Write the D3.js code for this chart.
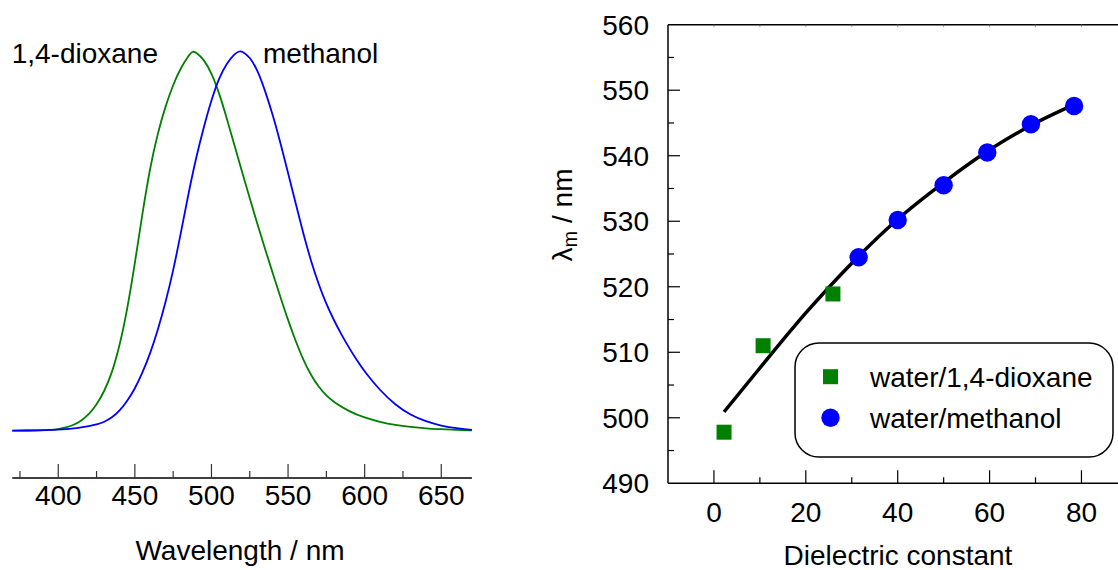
<!DOCTYPE html>
<html>
<head>
<meta charset="utf-8">
<script src="https://cdn.jsdelivr.net/npm/d3@7"></script>
<style>
  html, body { margin: 0; padding: 0; background: #fff; }
  svg { display: block; font-family: "Liberation Sans", Arial, sans-serif; }
</style>
</head>
<body>
<div id="chart"></div>
<script>
// left panel: normalised emission spectra
const dioxaneWl  = [370, 380, 390, 395, 400, 405, 410, 415, 420, 425, 430, 435, 440, 445, 450, 455, 460, 465, 470, 475, 480, 485, 487.5, 490, 495, 500, 505, 510, 515, 520, 525, 530, 535, 540, 545, 550, 555, 560, 565, 570, 575, 580, 590, 600, 610, 620, 630, 640, 650, 660, 670];
const dioxaneInt = [0, 0.0005, 0.001, 0.002, 0.004, 0.008, 0.015, 0.026, 0.043, 0.068, 0.103, 0.151, 0.222, 0.318, 0.44, 0.575, 0.695, 0.785, 0.855, 0.912, 0.956, 0.987, 1.0, 0.997, 0.978, 0.943, 0.89, 0.823, 0.752, 0.681, 0.612, 0.544, 0.478, 0.415, 0.352, 0.291, 0.235, 0.186, 0.146, 0.115, 0.092, 0.075, 0.05, 0.034, 0.023, 0.015, 0.01, 0.006, 0.004, 0.002, 0.001];

const methanolWl  = [370, 380, 390, 400, 405, 410, 415, 420, 425, 430, 435, 440, 445, 450, 455, 460, 465, 470, 475, 480, 485, 490, 495, 500, 505, 510, 515, 518.5, 520, 525, 530, 535, 540, 545, 550, 555, 560, 565, 570, 575, 580, 585, 590, 595, 600, 610, 620, 630, 640, 650, 660, 670];
const methanolInt = [0, 0.0005, 0.001, 0.003, 0.004, 0.006, 0.009, 0.012, 0.016, 0.023, 0.034, 0.052, 0.078, 0.11, 0.153, 0.203, 0.265, 0.337, 0.42, 0.52, 0.625, 0.72, 0.80, 0.872, 0.93, 0.968, 0.993, 1.0, 0.999, 0.985, 0.95, 0.896, 0.832, 0.759, 0.679, 0.598, 0.518, 0.446, 0.385, 0.333, 0.29, 0.252, 0.217, 0.185, 0.155, 0.106, 0.068, 0.041, 0.024, 0.013, 0.006, 0.002];

const wlTicks      = [400, 450, 500, 550, 600, 650];
const wlMinorTicks = [375, 425, 475, 525, 575, 625];

// right panel: emission maximum vs dielectric constant
const dioxaneEps    = [2.2, 10.7, 25.9];
const dioxaneLambda = [497.8, 511.0, 518.9];
const methanolEps    = [31.5, 40.0, 50.0, 59.5, 69.0, 78.4];
const methanolLambda = [524.5, 530.2, 535.5, 540.5, 544.8, 547.6];
const fitEps    = [2.2, 10, 20, 30, 40, 50, 60, 70, 78.4];
const fitLambda = [500.9, 507.6, 516.0, 523.6, 530.3, 535.9, 540.9, 545.0, 547.8];

const epsTicks      = [0, 20, 40, 60, 80];
const epsMinorTicks = [10, 30, 50, 70];
const lamTicks      = [490, 500, 510, 520, 530, 540, 550, 560];
const lamMinorTicks = [495, 505, 515, 525, 535, 545, 555];
const legendLabels  = ["water/1,4-dioxane", "water/methanol"];

const GREEN = "#008000", BLUE = "#0000ff";
const W = 1118, H = 570;

const svg = d3.select("#chart").append("svg").attr("width", W).attr("height", H);

// ---------- left panel ----------
function drawSpectra() {
  const x = d3.scaleLinear().domain([370, 670]).range([12.3, 471.9]);
  const y = d3.scaleLinear().domain([0, 1]).range([430.7, 51]);
  const axisY = 478;

  const line = d3.line().x(d => x(d[0])).y(d => y(d[1])).curve(d3.curveBasis);
  const series = [
    { wl: dioxaneWl, val: dioxaneInt, color: GREEN },
    { wl: methanolWl, val: methanolInt, color: BLUE }
  ];
  series.forEach(s => {
    svg.append("path")
      .datum(s.wl.map((w, i) => [w, s.val[i]]))
      .attr("fill", "none").attr("stroke", s.color).attr("stroke-width", 1.8)
      .attr("d", line);
  });

  const g = svg.append("g").attr("transform", `translate(0,${axisY})`);
  g.append("line").attr("x1", x(370)).attr("x2", x(670)).attr("stroke", "#000").attr("stroke-width", 1.5);
  g.selectAll("line.maj").data(wlTicks).enter().append("line").attr("class", "maj")
    .attr("x1", d => x(d)).attr("x2", d => x(d)).attr("y1", 0).attr("y2", -14)
    .attr("stroke", "#333").attr("stroke-width", 1.2);
  g.selectAll("line.min").data(wlMinorTicks).enter().append("line").attr("class", "min")
    .attr("x1", d => x(d)).attr("x2", d => x(d)).attr("y1", 0).attr("y2", -7)
    .attr("stroke", "#333").attr("stroke-width", 1.2);
  g.selectAll("text").data(wlTicks).enter().append("text")
    .attr("x", d => x(d)).attr("y", 27).attr("text-anchor", "middle")
    .style("font-size", "28px").text(d => d);

  svg.append("text").attr("x", 240).attr("y", 560).attr("text-anchor", "middle")
    .style("font-size", "28px").text("Wavelength / nm");

  svg.append("text").attr("x", 11.7).attr("y", 63).style("font-size", "28px").text("1,4-dioxane");
  svg.append("text").attr("x", 263).attr("y", 63).style("font-size", "28px").text("methanol");
}

// ---------- right panel ----------
function drawMaxima() {
  const x = d3.scaleLinear().domain([-10, 90]).range([668, 1127.4]);
  const y = d3.scaleLinear().domain([490, 560]).range([483.3, 24.7]);
  const x0 = x(-10), y0 = y(490), yTop = y(560);

  // frame: left axis, bottom axis, top line
  svg.append("line").attr("x1", x0).attr("x2", x0).attr("y1", yTop).attr("y2", y0)
    .attr("stroke", "#000").attr("stroke-width", 1.5);
  svg.append("line").attr("x1", x0).attr("x2", W).attr("y1", y0).attr("y2", y0)
    .attr("stroke", "#000").attr("stroke-width", 1.5);
  svg.append("line").attr("x1", x0).attr("x2", W).attr("y1", yTop).attr("y2", yTop)
    .attr("stroke", "#000").attr("stroke-width", 1.5);

  // y ticks
  svg.selectAll("line.ymaj").data(lamTicks.slice(1, -1)).enter().append("line").attr("class", "ymaj")
    .attr("x1", x0).attr("x2", x0 + 12).attr("y1", d => y(d)).attr("y2", d => y(d))
    .attr("stroke", "#000").attr("stroke-width", 1.2);
  svg.selectAll("line.ymin").data(lamMinorTicks).enter().append("line").attr("class", "ymin")
    .attr("x1", x0).attr("x2", x0 + 6).attr("y1", d => y(d)).attr("y2", d => y(d))
    .attr("stroke", "#000").attr("stroke-width", 1.2);
  svg.selectAll("text.ylab").data(lamTicks).enter().append("text").attr("class", "ylab")
    .attr("x", 649).attr("y", d => y(d)).attr("dy", "0.36em").attr("text-anchor", "end")
    .style("font-size", "28px").text(d => d);

  // x ticks
  svg.selectAll("line.xmaj").data(epsTicks).enter().append("line").attr("class", "xmaj")
    .attr("x1", d => x(d)).attr("x2", d => x(d)).attr("y1", y0).attr("y2", y0 - 13)
    .attr("stroke", "#000").attr("stroke-width", 1.2);
  svg.selectAll("line.xmin").data(epsMinorTicks).enter().append("line").attr("class", "xmin")
    .attr("x1", d => x(d)).attr("x2", d => x(d)).attr("y1", y0).attr("y2", y0 - 6)
    .attr("stroke", "#000").attr("stroke-width", 1.2);
  svg.selectAll("line.xtop").data(d3.range(0, 90, 10)).enter().append("line").attr("class", "xtop")
    .attr("x1", d => x(d)).attr("x2", d => x(d)).attr("y1", yTop).attr("y2", yTop + 2)
    .attr("stroke", "#666").attr("stroke-width", 1);
  svg.selectAll("text.xlab").data(epsTicks).enter().append("text").attr("class", "xlab")
    .attr("x", d => x(d)).attr("y", 522).attr("text-anchor", "middle")
    .style("font-size", "28px").text(d => d);

  svg.append("text").attr("x", 898).attr("y", 565).attr("text-anchor", "middle")
    .style("font-size", "28px").text("Dielectric constant");

  // y title: λm / nm
  const yt = svg.append("text")
    .attr("transform", "translate(572,215) rotate(-90)")
    .attr("text-anchor", "middle").style("font-size", "28px");
  yt.append("tspan").text("λ");
  yt.append("tspan").attr("dy", 5).style("font-size", "20px").text("m");
  yt.append("tspan").attr("dy", -5).text(" / nm");

  // fit curve
  const line = d3.line().x(d => x(d[0])).y(d => y(d[1])).curve(d3.curveMonotoneX);
  svg.append("path").datum(fitEps.map((e, i) => [e, fitLambda[i]]))
    .attr("fill", "none").attr("stroke", "#000").attr("stroke-width", 3.5)
    .attr("d", line);

  // markers
  const sq = 15;
  svg.selectAll("rect.pt").data(dioxaneEps.map((e, i) => [e, dioxaneLambda[i]])).enter()
    .append("rect").attr("class", "pt")
    .attr("x", d => x(d[0]) - sq / 2).attr("y", d => y(d[1]) - sq / 2)
    .attr("width", sq).attr("height", sq).attr("fill", GREEN);
  svg.selectAll("circle.pt").data(methanolEps.map((e, i) => [e, methanolLambda[i]])).enter()
    .append("circle").attr("class", "pt")
    .attr("cx", d => x(d[0])).attr("cy", d => y(d[1])).attr("r", 9.2).attr("fill", BLUE);

  // legend
  const lg = svg.append("g");
  lg.append("rect").attr("x", 795).attr("y", 343).attr("width", 318).attr("height", 114)
    .attr("rx", 24).attr("ry", 24).attr("fill", "#fff").attr("stroke", "#000").attr("stroke-width", 1.5);
  lg.append("rect").attr("x", 830.5 - sq / 2).attr("y", 376.7 - sq / 2).attr("width", sq).attr("height", sq).attr("fill", GREEN);
  lg.append("circle").attr("cx", 830.5).attr("cy", 417.8).attr("r", 9.2).attr("fill", BLUE);
  lg.append("text").attr("x", 870).attr("y", 376.7).attr("dy", "0.36em").style("font-size", "28px").text(legendLabels[0]);
  lg.append("text").attr("x", 870).attr("y", 417.8).attr("dy", "0.36em").style("font-size", "28px").text(legendLabels[1]);
}

drawSpectra();
drawMaxima();
</script>
</body>
</html>
